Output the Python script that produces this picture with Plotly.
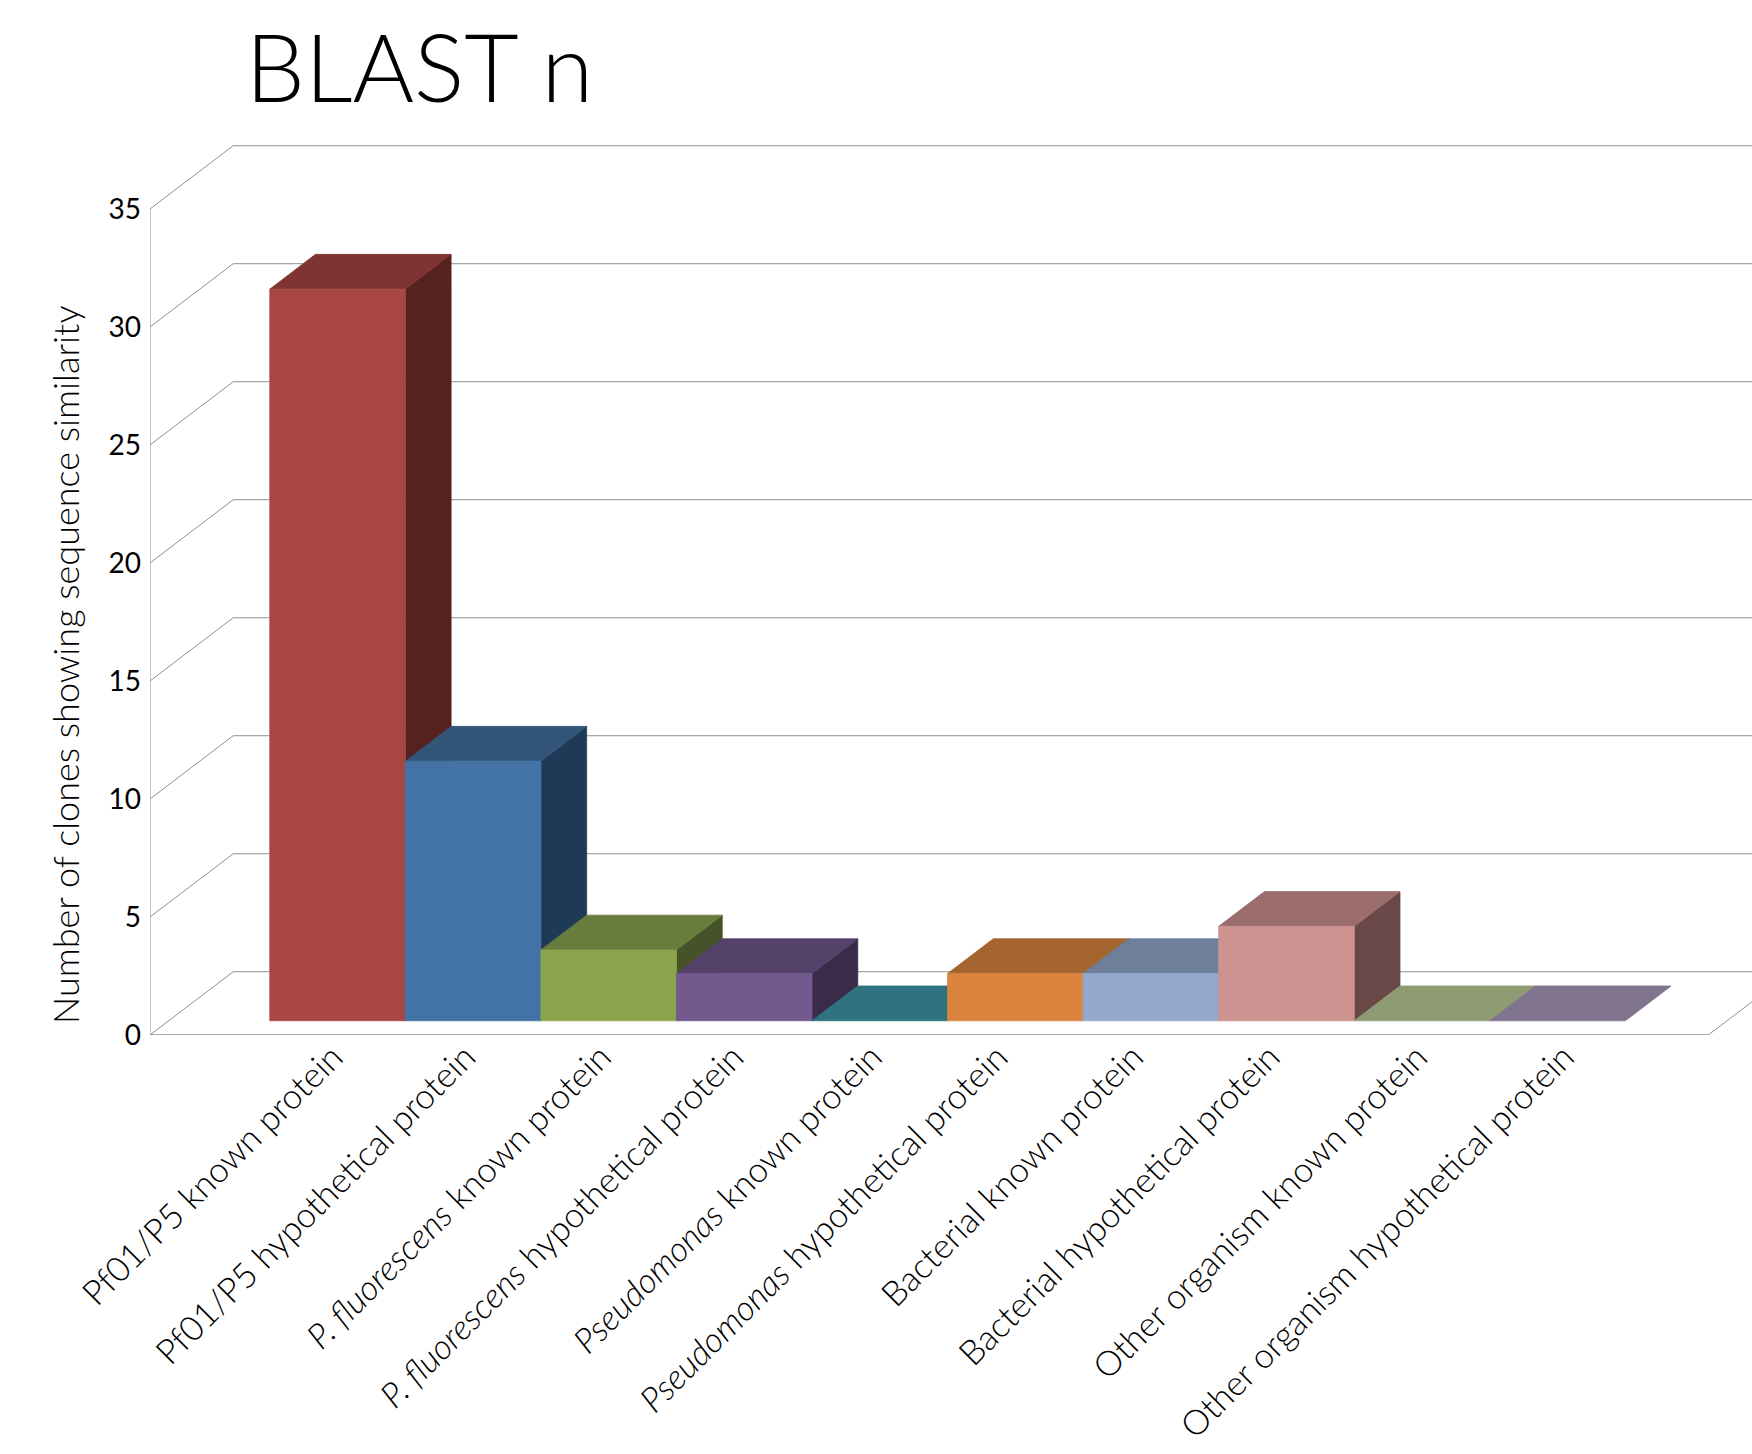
import plotly.graph_objects as go

# Chart content
categories = [
    "Pf01/P5 known protein",
    "Pf01/P5 hypothetical protein",
    "<i>P. fluorescens</i> known protein",
    "<i>P. fluorescens</i> hypothetical protein",
    "<i>Pseudomonas</i> known protein",
    "<i>Pseudomonas</i> hypothetical protein",
    "Bacterial known protein",
    "Bacterial hypothetical protein",
    "Other organism known protein",
    "Other organism hypothetical protein",
]
clones = [31, 11, 3, 2, 0, 2, 2, 4, 0, 0]
y_ticks = [0, 5, 10, 15, 20, 25, 30, 35]

front_colors = ["#A84644", "#4372A6", "#8BA54D", "#725A8F", "#3E8FA0",
                "#DB843D", "#92A8CD", "#CE9290", "#BCCC98", "#A99BBD"]
top_colors = ["#7F3332", "#335578", "#677D3C", "#55426A", "#2F7280",
              "#A5652F", "#6E7F9B", "#9B6D6C", "#8E9A72", "#80748E"]
side_colors = ["#552220", "#1F3A56", "#465227", "#3A2B49", "#20505A",
               "#6F4420", "#4A5568", "#6A4847", "#5F684C", "#564E60"]

FONT = "Lato"
LIGHT = 300
GRID = "#8F8F8F"

# Horizontal nudge of each category label, in pixels
label_nudge_px = [0, -3, -3, -6, -3, -13, -13, -12, 0, 11]

# Oblique projection: z runs 0 (front plane) to 1 (back wall)
WIDTH, HEIGHT = 1752, 1454
PLOT_L, PLOT_T, PLOT_B = 149.5, 141, 1035.5
CAT_PX = 135.6
UNIT_PX = 23.614
DEPTH_X = 0.6136
DEPTH_Y = 2.68
BAR_Z0, BAR_Z1 = 0.225, 0.775
FLOOR_X0 = -1.2456
FLOOR_X1 = 10.25
X_MAX = FLOOR_X0 + (WIDTH - PLOT_L) / CAT_PX
Y_MAX = (PLOT_B - PLOT_T) / UNIT_PX


def proj(x, y, z):
    return x + z * DEPTH_X, y + z * DEPTH_Y


def polygon(corners, fill, edge=None):
    pts = [proj(*c) for c in corners]
    pts.append(pts[0])
    return go.Scatter(
        x=[p[0] for p in pts], y=[p[1] for p in pts],
        mode="lines", fill="toself", fillcolor=fill,
        line=dict(color=edge or fill, width=0.8),
        hoverinfo="skip", showlegend=False, cliponaxis=False,
    )


def lines(segments, color=GRID, width=1.0):
    xs, ys = [], []
    for a, b in segments:
        for c in (a, b):
            px, py = proj(*c)
            xs.append(px)
            ys.append(py)
        xs.append(None)
        ys.append(None)
    return go.Scatter(x=xs, y=ys, mode="lines", line=dict(color=color, width=width),
                      hoverinfo="skip", showlegend=False, cliponaxis=False)


fig = go.Figure()

# Walls and floor outline
segs = [((FLOOR_X0, 0, 0), (FLOOR_X0, y_ticks[-1], 0))]
for t in y_ticks:
    segs.append(((FLOOR_X0, t, 0), (FLOOR_X0, t, 1)))
    segs.append(((FLOOR_X0, t, 1), (X_MAX - DEPTH_X, t, 1)))
segs.append(((FLOOR_X1, 0, 0), (FLOOR_X1, 0, 1)))
fig.add_trace(lines(segs))
fig.add_trace(lines([((FLOOR_X0, 0, 0), (FLOOR_X1, 0, 0))], color="#8C8C8C", width=1.6))

# Bars, left to right so that each one covers its neighbour's side face
for i, v in enumerate(clones):
    l, r = i - 0.5, i + 0.5
    if v > 0:
        fig.add_trace(polygon([(r, 0, BAR_Z0), (r, 0, BAR_Z1), (r, v, BAR_Z1), (r, v, BAR_Z0)],
                              side_colors[i]))
    fig.add_trace(polygon([(l, v, BAR_Z0), (r, v, BAR_Z0), (r, v, BAR_Z1), (l, v, BAR_Z1)],
                          top_colors[i]))
    if v > 0:
        fig.add_trace(polygon([(l, 0, BAR_Z0), (r, 0, BAR_Z0), (r, v, BAR_Z0), (l, v, BAR_Z0)],
                              front_colors[i]))

fig.update_layout(
    width=WIDTH, height=HEIGHT,
    margin=dict(l=PLOT_L, r=0, t=PLOT_T, b=HEIGHT - PLOT_B, autoexpand=False),
    paper_bgcolor="white", plot_bgcolor="white",
    showlegend=False,
    font=dict(family=FONT, color="#000000", weight=LIGHT),
    title=dict(text="BLAST n", x=(245 - PLOT_L) / (WIDTH - PLOT_L), xanchor="left", xref="paper",
               y=1 - 102 / HEIGHT, yanchor="bottom", yref="container",
               pad=dict(l=0, r=0, t=0, b=0),
               font=dict(family=FONT, size=94, color="#000000", weight=LIGHT)),
    xaxis=dict(range=[FLOOR_X0, X_MAX], showgrid=False, zeroline=False, showline=False,
               tickmode="array",
               tickvals=[i + n / CAT_PX for i, n in enumerate(label_nudge_px)],
               ticktext=categories,
               tickangle=-45, ticks="", tickfont=dict(family=FONT, size=34.5, weight=LIGHT),
               ticklabelshift=14, ticklabelstandoff=-6, automargin=False),
    yaxis=dict(range=[0, Y_MAX], showgrid=False, zeroline=False, showline=False,
               tickmode="array", tickvals=y_ticks, ticktext=[str(t) for t in y_ticks],
               ticks="", tickfont=dict(family=FONT, size=28, weight=400), ticklabelstandoff=8,
               automargin=False),
    annotations=[dict(
        text="Number of clones showing sequence similarity",
        xref="paper", yref="y", x=(65 - PLOT_L) / (WIDTH - PLOT_L), y=15.7,
        textangle=-90, showarrow=False, xanchor="center", yanchor="middle",
        font=dict(family=FONT, size=36, color="#000000", weight=LIGHT),
    )],
)

fig.write_html("out.html")
